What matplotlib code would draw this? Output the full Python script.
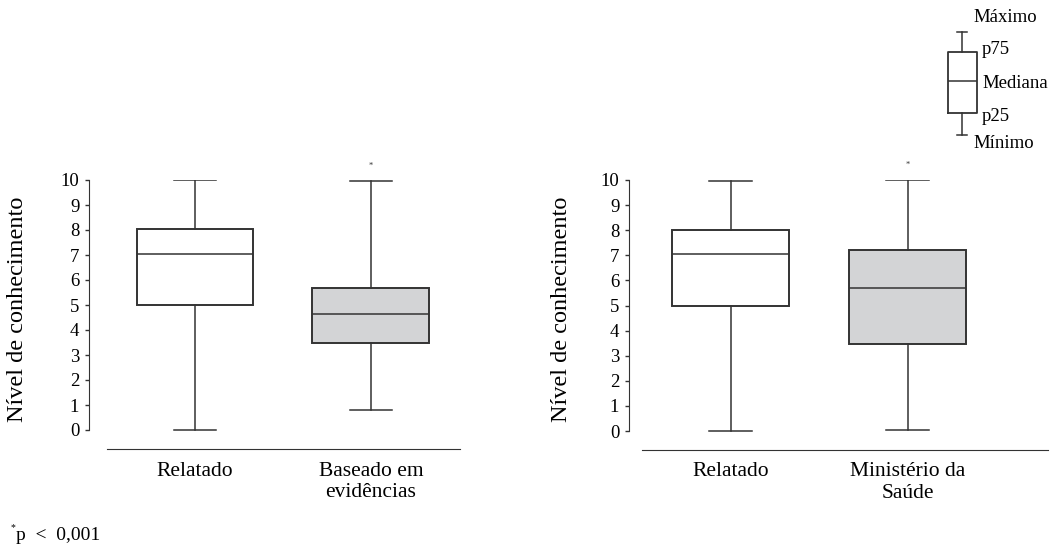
import matplotlib
matplotlib.use("Agg")
import matplotlib.pyplot as plt

plt.rcParams['font.family'] = ['Liberation Serif', 'DejaVu Serif']

# ---- data ----
categories_left = ["Relatado", "Baseado em\nevidências"]
categories_right = ["Relatado", "Ministério da\nSaúde"]
stat_names = ["whislo", "q1", "med", "q3", "whishi"]
left_relatado = [0.0, 5.0, 7.05, 8.05, 10.0]
left_baseado = [0.8, 3.5, 4.63, 5.67, 9.97]
right_relatado = [0.0, 5.0, 7.07, 8.02, 9.95]
right_ministerio = [0.02, 3.48, 5.68, 7.22, 10.0]
significant_left = [False, True]
significant_right = [False, True]
yticks = list(range(0, 11))
ylabel = "Nível de conhecimento"
footnote = "p  <  0,001"
legend_labels = ["Máximo", "p75", "Mediana", "p25", "Mínimo"]
legend_schema = [0.0, 2.2, 5.4, 8.3, 10.3]  # schematic min, p25, median, p75, max
legend_label_y = [11.8, 8.5, 5.2, 1.9, -0.8]

W, H = 1052, 547
fig = plt.figure(figsize=(W / 100, H / 100), dpi=100)

def px_ax(x0, y0, x1, y1):
    return fig.add_axes([x0 / W, 1 - y1 / H, (x1 - x0) / W, (y1 - y0) / H])

EDGE = "#333333"
FILL = ["white", "#d3d4d6"]

def make_stats(vals, label):
    d = dict(zip(stat_names, vals))
    d["label"] = label
    d["fliers"] = []
    return d

def draw_panel(ax, series, cats, sig, xlim, ylim, width, ylab_x):
    stats = [make_stats(v, c) for v, c in zip(series, cats)]
    bp = ax.bxp(stats, positions=[1, 2], widths=width, patch_artist=True,
                showfliers=False, capwidths=0.24,
                boxprops=dict(edgecolor=EDGE, linewidth=1.4),
                whiskerprops=dict(color=EDGE, linewidth=1.1),
                capprops=dict(color=EDGE, linewidth=1.1),
                medianprops=dict(color=EDGE, linewidth=1.1))
    for patch, fc in zip(bp["boxes"], FILL):
        patch.set_facecolor(fc)
    for i, (s, v) in enumerate(zip(sig, series)):
        if s:
            ax.text(i + 1, v[4] + 0.45, "*", ha="center", va="bottom",
                    fontsize=6, color=EDGE)
    ax.set_xlim(*xlim)
    ax.set_ylim(*ylim)
    ax.set_yticks(yticks)
    ax.set_yticklabels([str(t) for t in yticks], fontsize=13.5)
    ax.tick_params(axis="y", direction="out", length=3, width=1, color=EDGE, pad=4)
    ax.tick_params(axis="x", length=0, pad=9, labelsize=15.5)
    ax.set_xticks([1, 2])
    ax.set_xticklabels(cats, linespacing=1.2)
    for lab in ax.get_xticklabels():
        lab.set_multialignment("center")
    ax.spines["top"].set_visible(False)
    ax.spines["right"].set_visible(False)
    ax.spines["left"].set_bounds(0, 10)
    ax.spines["left"].set_color(EDGE)
    ax.spines["bottom"].set_bounds(0.5, xlim[1])
    ax.spines["bottom"].set_color(EDGE)
    ax.patch.set_alpha(0)
    ax.set_ylabel(ylabel, fontsize=17.5)
    ax.yaxis.set_label_coords(ylab_x, 0.52)

axL = px_ax(89, 180, 460, 449)
draw_panel(axL, [left_relatado, left_baseado], categories_left, significant_left,
           (1 - 106 / 176, 2 + 89 / 176), (-19 / 25, 10), 117 / 176, -0.164)

axR = px_ax(629, 180, 1048, 450)
draw_panel(axR, [right_relatado, right_ministerio], categories_right, significant_right,
           (1 - 101.5 / 177, 2 + 140.5 / 177), (-19 / 25.1, 10), 117 / 177, -0.136)

# ---- legend schematic ----
axLeg = px_ax(930, 20, 1050, 148)
axLeg.axis("off")
leg_stats = [dict(whislo=legend_schema[0], q1=legend_schema[1], med=legend_schema[2],
                  q3=legend_schema[3], whishi=legend_schema[4], fliers=[])]
axLeg.bxp(leg_stats, positions=[0.27], widths=0.242, capwidths=0.083, showfliers=False,
          boxprops=dict(color=EDGE, linewidth=1.3),
          whiskerprops=dict(color=EDGE, linewidth=1.1),
          capprops=dict(color=EDGE, linewidth=1.1),
          medianprops=dict(color=EDGE, linewidth=1.1))
axLeg.set_xlim(0, 1)
axLeg.set_ylim(-1.3, 11.5)
axLeg.axis("off")
label_x = [0.36, 0.435, 0.435, 0.435, 0.36]
for lab, x, yv in zip(legend_labels, label_x, legend_label_y):
    axLeg.text(x, yv, lab, ha="left", va="center", fontsize=13.5, clip_on=False)

# ---- footnote ----
fig.text(11 / W, 1 - 528 / H, "*", fontsize=7, ha="left", va="center")
fig.text(16 / W, 1 - 535 / H, footnote, fontsize=14, ha="left", va="center")

fig.savefig("out.png", dpi=100)
